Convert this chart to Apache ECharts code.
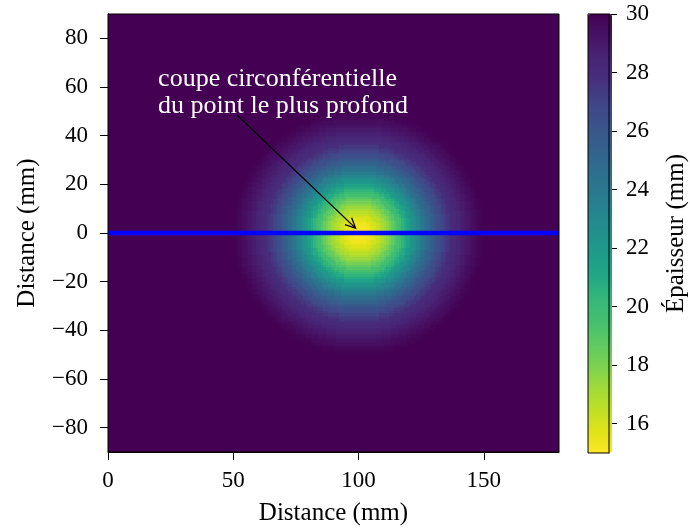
<!DOCTYPE html>
<html>
<head>
<meta charset="utf-8">
<script src="https://cdn.jsdelivr.net/npm/echarts@6/dist/echarts.min.js"></script>
<style>
  html, body { margin: 0; padding: 0; background: #ffffff; }
  #chart { width: 690px; height: 531px; }
</style>
</head>
<body>
<div id="chart"></div>
<script>
// ---------------- data ----------------
const xRange = [0, 180];                 // circumferential distance (mm)
const yRange = [-90, 90];                // axial distance (mm)
const thicknessRange = [15, 30];         // colour scale (mm)
const xTickValues = [0, 50, 100, 150];
const yTickValues = [-80, -60, -40, -20, 0, 20, 40, 60, 80];
const cbTickValues = [16, 18, 20, 22, 24, 26, 28, 30];
const baseThickness = 30;                // nominal wall thickness (mm)
const deepestPoint = [100, 0];           // centre of the thinning (mm)
const cellStep = 1;                      // grid step (mm)
// thickness read along a radius from the deepest point, one value per mm (0..50 mm)
const radialProfile = [
  15.0, 15.0, 15.1, 15.2, 15.3, 15.5, 15.7, 16.0, 16.3, 16.6,
  16.9, 17.3, 17.7, 18.1, 18.6, 19.0, 19.5, 19.9, 20.4, 20.9,
  21.4, 21.9, 22.3, 22.8, 23.2, 23.7, 24.1, 24.5, 24.9, 25.3,
  25.7, 26.0, 26.4, 26.7, 27.0, 27.3, 27.5, 27.8, 28.0, 28.2,
  28.4, 28.6, 28.8, 28.95, 29.1, 29.3, 29.45, 29.6, 29.75, 29.85,
  29.95
];
// circumferential cut through the deepest point
const sectionX = [0, 180];
const sectionY = [0, 0];
// annotation
const annotationText = 'coupe circonférentielle\ndu point le plus profond';
const annotationAnchor = [20, 68.6];
const arrowTail = [51.5, 48.5];
const arrowTip = [98.8, 2.0];

// ---------------- build cells ----------------
const cells = [];
for (let x = xRange[0] + cellStep / 2; x < xRange[1]; x += cellStep) {
  for (let y = yRange[0] + cellStep / 2; y < yRange[1]; y += cellStep) {
    const r = Math.hypot(x - deepestPoint[0], y - deepestPoint[1]);
    const idx = Math.round(r / cellStep);
    const v = idx < radialProfile.length ? radialProfile[idx] : baseThickness;
    cells.push([x, y, v]);
  }
}
const sectionData = sectionX.map((x, i) => [x, sectionY[i]]);

// viridis reversed (low thickness = yellow)
const viridis = ['#440154', '#471365', '#482475', '#472f7d', '#414487', '#3b528b',
  '#355f8d', '#2f6c8e', '#2a788e', '#25848e', '#21918c', '#1e9c89', '#22a884',
  '#35b779', '#44bf70', '#5ec962', '#7ad151', '#9fda3a', '#bddf26', '#dfe318', '#fde725'];
const colorsLowToHigh = viridis.slice().reverse();

const FONT = 'Liberation Serif';
const minus = v => (v < 0 ? '\u2212' + Math.abs(v) : String(v));
const axisLineStyle = { show: true, onZero: false, lineStyle: { color: '#000', width: 1 } };
const tickStyle = { show: true, inside: false, length: 8, lineStyle: { color: '#000', width: 1 } };

const chart = echarts.init(document.getElementById('chart'), null, { renderer: 'canvas' });

chart.setOption({
  animation: false,
  backgroundColor: '#ffffff',
  grid: [
    { left: 108, top: 14, width: 451, height: 439, show: true, borderColor: '#000', borderWidth: 1,
      backgroundColor: 'transparent', z: 10, containLabel: false },
    { left: 588, top: 14, width: 24, height: 439, show: true, borderColor: '#000', borderWidth: 1,
      backgroundColor: 'transparent', z: 10, containLabel: false }
  ],
  xAxis: [
    {
      gridIndex: 0, type: 'value', min: xRange[0], max: xRange[1], position: 'bottom',
      axisLine: axisLineStyle,
      axisTick: Object.assign({ customValues: xTickValues }, tickStyle),
      axisLabel: { customValues: xTickValues, formatter: minus, margin: 17, color: '#000',
        fontFamily: FONT, fontSize: 23 },
      splitLine: { show: false },
      name: 'Distance (mm)', nameLocation: 'middle', nameGap: 49,
      nameTextStyle: { fontFamily: FONT, fontSize: 25, color: '#000' }
    },
    { gridIndex: 1, type: 'value', min: 0, max: 1, show: false }
  ],
  yAxis: [
    {
      gridIndex: 0, type: 'value', min: yRange[0], max: yRange[1], position: 'left',
      axisLine: axisLineStyle,
      axisTick: Object.assign({ customValues: yTickValues }, tickStyle),
      axisLabel: { customValues: yTickValues, formatter: minus, margin: 20, color: '#000',
        fontFamily: FONT, fontSize: 23 },
      splitLine: { show: false },
      name: 'Distance (mm)', nameLocation: 'middle', nameGap: 68, nameRotate: 90,
      nameTextStyle: { fontFamily: FONT, fontSize: 25, color: '#000' }
    },
    {
      gridIndex: 1, type: 'value', min: thicknessRange[0], max: thicknessRange[1], position: 'right',
      axisLine: axisLineStyle,
      axisTick: Object.assign({ customValues: cbTickValues }, tickStyle),
      axisLabel: { customValues: cbTickValues, margin: 17, color: '#000',
        fontFamily: FONT, fontSize: 23 },
      splitLine: { show: false },
      name: 'Épaisseur (mm)', nameLocation: 'middle', nameGap: 55, nameRotate: 90,
      nameTextStyle: { fontFamily: FONT, fontSize: 25, color: '#000' }
    }
  ],
  visualMap: {
    type: 'continuous',
    min: thicknessRange[0], max: thicknessRange[1],
    dimension: 2, seriesIndex: 0,
    left: 588, top: 14, itemWidth: 24, itemHeight: 439, padding: 0,
    calculable: false, hoverLink: false, text: null, showLabel: false,
    inRange: { color: colorsLowToHigh },
    z: 2
  },
  series: [
    {
      type: 'custom', coordinateSystem: 'cartesian2d', xAxisIndex: 0, yAxisIndex: 0,
      data: cells, encode: { x: 0, y: 1 }, progressive: 0, clip: true, silent: true, z: 1,
      renderItem: function (params, api) {
        const x = api.value(0), y = api.value(1), h = cellStep / 2;
        const p0 = api.coord([x - h, y + h]);
        const p1 = api.coord([x + h, y - h]);
        const x0 = Math.round(p0[0]), x1 = Math.round(p1[0]);
        const y0 = Math.round(p0[1]), y1 = Math.round(p1[1]);
        const c = api.visual('color');
        return { type: 'rect',
          shape: { x: x0, y: y0, width: x1 - x0, height: y1 - y0 },
          style: { fill: c, lineWidth: 0 } };
      }
    },
    {
      type: 'line', xAxisIndex: 0, yAxisIndex: 0, data: sectionData, symbol: 'none',
      lineStyle: { color: '#0000ff', width: 4.6 }, silent: true, z: 3, clip: true
    },
    {
      type: 'custom', coordinateSystem: 'cartesian2d', xAxisIndex: 0, yAxisIndex: 0,
      data: [[arrowTail[0], arrowTail[1], arrowTip[0], arrowTip[1]]], silent: true, z: 4,
      renderItem: function (params, api) {
        const a = api.coord([api.value(0), api.value(1)]);
        const b = api.coord([api.value(2), api.value(3)]);
        const ang = Math.atan2(b[1] - a[1], b[0] - a[0]);
        const L = 10, W = 4.8;
        const bx = b[0] - L * Math.cos(ang), by = b[1] - L * Math.sin(ang);
        const nx = -Math.sin(ang) * W, ny = Math.cos(ang) * W;
        return { type: 'group', children: [
          { type: 'line', shape: { x1: a[0], y1: a[1], x2: b[0], y2: b[1] },
            style: { stroke: '#000', lineWidth: 1.3 } },
          { type: 'polyline', shape: { points: [[bx + nx, by + ny], b, [bx - nx, by - ny]] },
            style: { stroke: '#000', lineWidth: 1.3, fill: null } }
        ] };
      }
    },
    {
      type: 'custom', coordinateSystem: 'cartesian2d', xAxisIndex: 0, yAxisIndex: 0,
      data: [annotationAnchor], silent: true, z: 5,
      renderItem: function (params, api) {
        const p = api.coord([api.value(0), api.value(1)]);
        return { type: 'text', x: p[0], y: p[1],
          style: { text: annotationText, fill: '#ffffff', fontFamily: FONT, fontSize: 26,
            lineHeight: 27, align: 'left', verticalAlign: 'top' } };
      }
    }
  ]
});
</script>
</body>
</html>
